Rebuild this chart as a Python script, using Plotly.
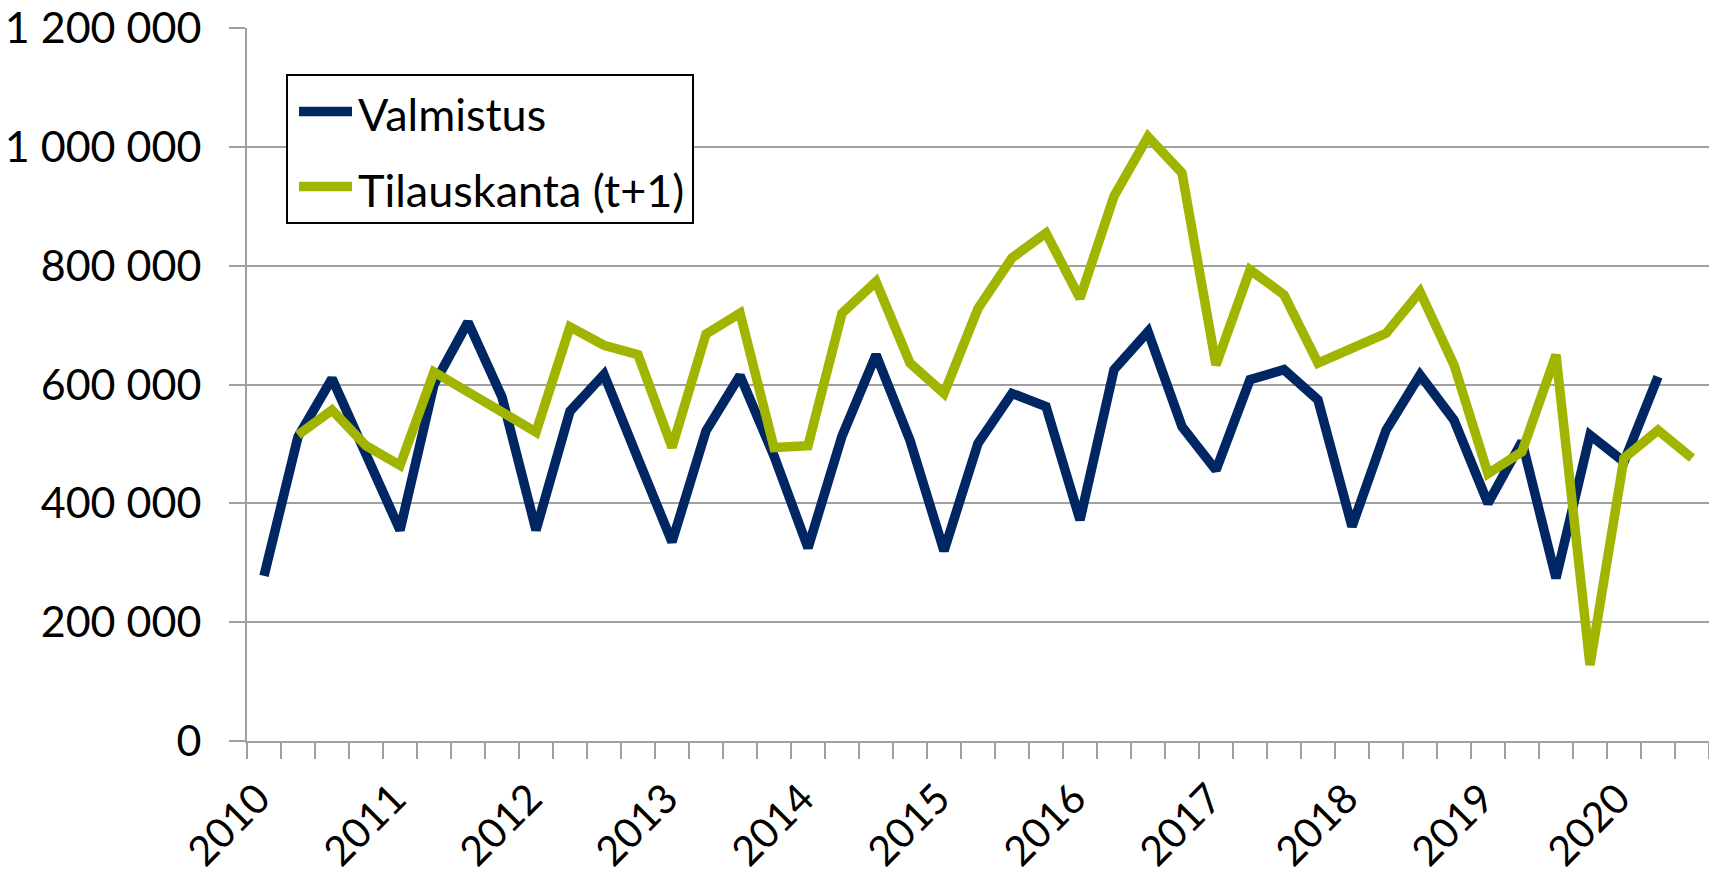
import plotly.graph_objects as go

quarters = [f"{y}Q{q}" for y in range(2010, 2021) for q in range(1, 5)][:43]
year_labels = [str(y) for y in range(2010, 2021)]

valmistus = [278000, 512000, 610000, 481000, 355000, 600000, 705000, 579000,
             355000, 555000, 617000, 475000, 335000, 522000, 615000, 480000,
             325000, 513000, 650000, 506000, 320000, 501000, 585000, 563000,
             372000, 625000, 689000, 529000, 456000, 608000, 625000, 574000,
             361000, 523000, 616000, 540000, 400000, 504000, 274000, 515000,
             470000, 613000]

tilauskanta = [None, 515000, 557000, 497000, 464000, 621000, 588000, 554000,
               520000, 697000, 666000, 650000, 494000, 685000, 720000, 494000,
               497000, 720000, 773000, 636000, 585000, 728000, 813000, 855000,
               745000, 917000, 1017000, 956000, 633000, 793000, 751000, 636000,
               661000, 686000, 756000, 633000, 450000, 487000, 650000, 128000,
               476000, 523000, 476000]

series_names = ["Valmistus", "Tilauskanta (t+1)"]
y_ticks = [0, 200000, 400000, 600000, 800000, 1000000, 1200000]

pos = list(range(len(quarters)))
year_pos = [quarters.index(f"{y}Q1") for y in year_labels]

BLUE = "#002663"
GREEN = "#A1B500"
GRID = "#A0A0A0"
FONT = "Lato"
W, H = 1709, 874
ML, MT, MB = 247, 28, 133
PW, PH = W - ML, H - MT - MB


def px(x):
    return (x - ML) / PW


def py(y):
    return (H - MB - y) / PH


fig = go.Figure()
for name, vals, col in zip(series_names, [valmistus, tilauskanta], [BLUE, GREEN]):
    fig.add_trace(go.Scatter(x=pos[:len(vals)], y=vals, mode="lines", name=name,
                             showlegend=False, line=dict(color=col, width=9.5)))

# legend drawn as a boxed key (matches the reference's long line samples)
shapes = [dict(type="rect", xref="paper", yref="paper",
               x0=px(287), x1=px(693), y0=py(223), y1=py(75),
               line=dict(color="black", width=2), fillcolor="white", layer="above")]
annotations = []
for k, (name, col) in enumerate(zip(series_names, [BLUE, GREEN])):
    yc = 111.5 + 75 * k
    shapes.append(dict(type="line", xref="paper", yref="paper",
                       x0=px(299), x1=px(352), y0=py(yc), y1=py(yc),
                       line=dict(color=col, width=9.5), layer="above"))
    annotations.append(dict(text=name, xref="paper", yref="paper",
                            x=px(356), y=py(yc + 3), xanchor="left", yanchor="middle",
                            showarrow=False, font=dict(family=FONT, size=45, color="black")))

fig.update_layout(
    width=W, height=H,
    margin=dict(l=ML, r=0, t=MT, b=MB),
    paper_bgcolor="white", plot_bgcolor="white",
    separators=". ",
    font=dict(family=FONT, size=42, color="black"),
    showlegend=False,
    shapes=shapes, annotations=annotations,
)
fig.update_xaxes(
    range=[-0.5, len(quarters) - 0.5], automargin=False,
    tickmode="array", tickvals=year_pos, ticktext=year_labels,
    tickangle=-45, ticks="", showgrid=False, zeroline=False,
    showline=True, linecolor=GRID, linewidth=2,
    tickfont=dict(family=FONT, size=41),
    ticklabelstandoff=15, ticklabelshift=-6,
    minor=dict(tickmode="linear", tick0=-0.5, dtick=1, ticks="outside",
               ticklen=16, tickwidth=2, tickcolor=GRID, showgrid=False),
)
fig.update_yaxes(
    range=[0, 1200000], automargin=False,
    tickmode="array", tickvals=y_ticks, tickformat=",d",
    ticks="outside", ticklen=16, tickwidth=2, tickcolor=GRID,
    showgrid=True, gridcolor=GRID, gridwidth=2,
    zeroline=False, showline=True, linecolor=GRID, linewidth=2,
    tickfont=dict(family=FONT, size=43),
    ticklabelstandoff=19,
)

fig.write_html("out.html", config={"displayModeBar": False},
               post_script="document.body.style.margin='0';document.body.style.overflow='hidden';")
